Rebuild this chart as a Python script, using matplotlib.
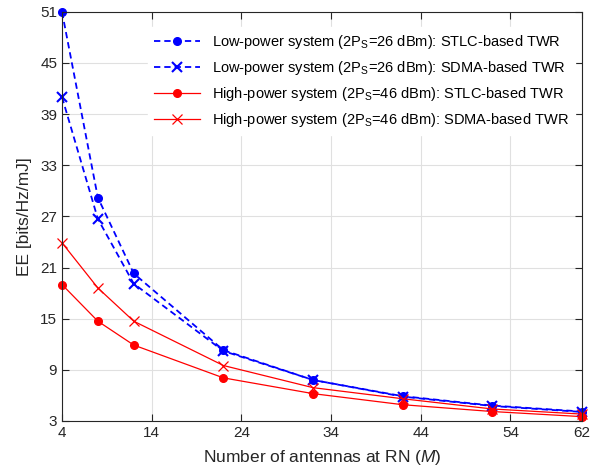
import numpy as np
import matplotlib
matplotlib.use("Agg")
import matplotlib.pyplot as plt

plt.rcParams['font.family'] = ['Liberation Sans', 'DejaVu Sans']
plt.rcParams['mathtext.fontset'] = 'custom'
plt.rcParams['mathtext.it'] = 'Liberation Sans:italic'
plt.rcParams['mathtext.rm'] = 'Liberation Sans'

# data
antennas = [4, 8, 12, 22, 32, 42, 52, 62]
low_stlc = [51.0, 29.2, 20.3, 11.3, 7.8, 5.9, 4.8, 4.1]
low_sdma = [41.0, 26.7, 19.1, 11.2, 7.8, 5.85, 4.75, 4.05]
high_stlc = [19.0, 14.7, 11.9, 8.05, 6.2, 4.9, 4.1, 3.5]
high_sdma = [23.9, 18.6, 14.7, 9.5, 6.9, 5.6, 4.4, 3.8]

xticks = [4, 14, 24, 34, 44, 54, 62]
yticks = list(range(3, 52, 6))

fig = plt.figure(figsize=(6.02, 4.74), dpi=100)
ax = fig.add_axes([0.103, 0.112, 0.864, 0.863])

blue = '#0000ff'
red = '#ff0000'
dash = (3.5, 2.2)
ax.plot(antennas, low_stlc, '--', dashes=dash, color=blue, marker='o', markersize=5.5,
        linewidth=1.3, clip_on=False,
        label='Low-power system (2P$_\\mathrm{S}$=26 dBm): STLC-based TWR')
ax.plot(antennas, low_sdma, '--', dashes=dash, color=blue, marker='x', markersize=7.5,
        markeredgewidth=1.5, linewidth=1.3, clip_on=False,
        label='Low-power system (2P$_\\mathrm{S}$=26 dBm): SDMA-based TWR')
ax.plot(antennas, high_stlc, '-', color=red, marker='o', markersize=5.5, linewidth=0.9,
        clip_on=False,
        label='High-power system (2P$_\\mathrm{S}$=46 dBm): STLC-based TWR')
ax.plot(antennas, high_sdma, '-', color=red, marker='x', markersize=7.5, markeredgewidth=0.9,
        linewidth=0.9, clip_on=False,
        label='High-power system (2P$_\\mathrm{S}$=46 dBm): SDMA-based TWR')

ax.set_xlim(4, 62)
ax.set_ylim(3, 51)
ax.set_xticks(xticks)
ax.set_yticks(yticks)
ax.grid(True, color='#e0e0e0', linewidth=0.8)
ax.set_axisbelow(True)
ax.tick_params(direction='in', top=True, right=True, labelsize=11, colors='#262626',
               length=5, width=0.8)
for s in ax.spines.values():
    s.set_color('#262626')
    s.set_linewidth(0.8)

ax.set_xlabel('Number of antennas at RN ($\\mathit{M}$)', fontsize=12.5, color='#262626',
              labelpad=6)
ax.set_ylabel('EE [bits/Hz/mJ]', fontsize=12.5, color='#262626', labelpad=6)

leg = ax.legend(loc='upper right', bbox_to_anchor=(1.0, 0.98), fontsize=10.5, frameon=True,
                fancybox=False, edgecolor='white', framealpha=1, handlelength=3.2,
                labelspacing=0.55, borderpad=0.4)

fig.savefig('out.png', dpi=100)
